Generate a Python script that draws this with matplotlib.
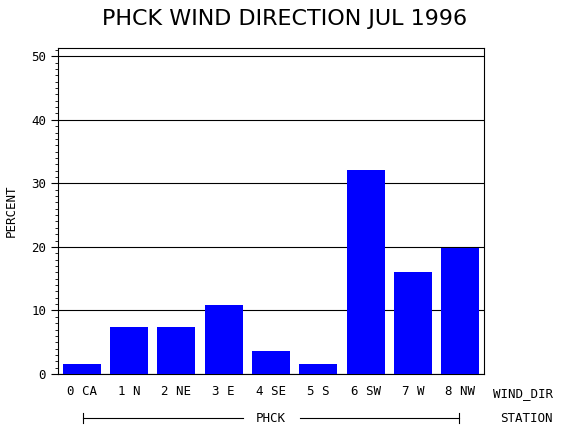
import matplotlib
matplotlib.use("Agg")
import matplotlib.pyplot as plt
from matplotlib.ticker import MultipleLocator

categories = ["0 CA", "1 N", "2 NE", "3 E", "4 SE", "5 S", "6 SW", "7 W", "8 NW"]
percent = [1.6, 7.4, 7.4, 10.8, 3.6, 1.6, 32.1, 16.1, 19.8]

fig = plt.figure(figsize=(5.7, 4.3), dpi=100)
ax = fig.add_axes([58 / 570, 1 - 374 / 430, 426 / 570, 326 / 430])

x = range(len(categories))
ax.bar(x, percent, width=0.8, color="#0000ff", zorder=3)
ax.set_xlim(-0.5, len(categories) - 0.5)
ax.set_ylim(0, 51.3)
ax.yaxis.set_major_locator(MultipleLocator(10))
ax.yaxis.set_minor_locator(MultipleLocator(1))
ax.grid(axis="y", color="black", lw=0.8, zorder=1)
ax.set_xticks(list(x))
ax.set_xticklabels(categories, family="DejaVu Sans Mono", fontsize=9)
ax.tick_params(axis="x", length=0, pad=8)
ax.tick_params(axis="y", which="major", length=5, labelsize=9)
ax.tick_params(axis="y", which="minor", length=2.5)
for lbl in ax.get_yticklabels():
    lbl.set_family("DejaVu Sans Mono")
ax.set_ylabel("PERCENT", family="DejaVu Sans Mono", fontsize=9, labelpad=10)

fig.text(0.5, 0.955, "PHCK WIND DIRECTION JUL 1996", ha="center", va="center", fontsize=16)
fig.text(493 / 570, 1 - 394 / 430, "WIND_DIR", family="DejaVu Sans Mono", fontsize=9, va="center")
fig.text(500 / 570, 1 - 419 / 430, "STATION", family="DejaVu Sans Mono", fontsize=9, va="center")

# station bracket
y = 1 - 418 / 430
fig.add_artist(plt.Line2D([83 / 570, 243 / 570], [y, y], color="black", lw=0.8))
fig.add_artist(plt.Line2D([300 / 570, 459 / 570], [y, y], color="black", lw=0.8))
for xx in (83 / 570, 459 / 570):
    fig.add_artist(plt.Line2D([xx, xx], [y - 0.012, y + 0.012], color="black", lw=0.8))
fig.text(271 / 570, y, "PHCK", family="DejaVu Sans Mono", fontsize=9, ha="center", va="center")

fig.savefig("out.png", dpi=100)
